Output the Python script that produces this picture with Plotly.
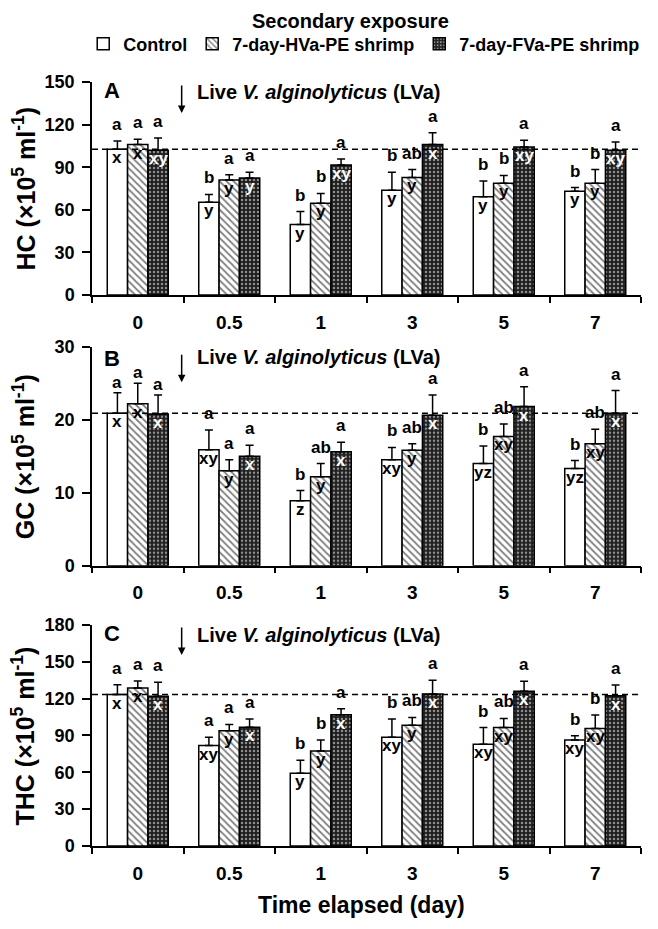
import plotly.graph_objects as go

# ---------------- data ----------------
days = ["0", "0.5", "1", "3", "5", "7"]
series_names = ["Control", "7-day-HVa-PE shrimp", "7-day-FVa-PE shrimp"]

# Panel A: HC
hc_ctrl = [102.6, 65.3, 49.6, 73.8, 69.2, 73.1]
hc_ctrl_se = [5.8, 5.5, 9.2, 12.7, 11.1, 2.6]
hc_hva = [105.9, 81.0, 64.6, 82.8, 78.7, 78.7]
hc_hva_se = [3.7, 3.7, 6.9, 5.5, 5.5, 9.6]
hc_fva = [102.0, 82.4, 91.6, 105.9, 104.3, 102.0]
hc_fva_se = [8.5, 4.1, 4.1, 8.3, 4.6, 5.7]
hc_top_ctrl = ["a", "b", "b", "b", "b", "b"]
hc_top_hva = ["a", "a", "b", "ab", "b", "b"]
hc_top_fva = ["a", "a", "a", "a", "a", "a"]
hc_in_ctrl = ["x", "y", "y", "y", "y", "y"]
hc_in_hva = ["x", "y", "y", "y", "y", "y"]
hc_in_fva = ["xy", "y", "xy", "x", "xy", "xy"]

# Panel B: GC
gc_ctrl = [20.9, 15.9, 8.9, 14.5, 14.0, 13.3]
gc_ctrl_se = [2.8, 2.7, 1.4, 1.7, 2.4, 1.1]
gc_hva = [22.2, 13.0, 12.2, 15.8, 17.7, 16.7]
gc_hva_se = [2.8, 1.5, 1.8, 0.9, 1.7, 2.0]
gc_fva = [20.8, 15.0, 15.6, 20.6, 21.8, 20.9]
gc_fva_se = [2.6, 1.5, 1.3, 2.8, 2.7, 3.1]
gc_top_ctrl = ["a", "a", "b", "b", "b", "b"]
gc_top_hva = ["a", "a", "ab", "ab", "ab", "ab"]
gc_top_fva = ["a", "a", "a", "a", "a", "a"]
gc_in_ctrl = ["x", "xy", "z", "xy", "yz", "yz"]
gc_in_hva = ["x", "y", "y", "y", "xy", "xy"]
gc_in_fva = ["x", "x", "x", "x", "x", "x"]

# Panel C: THC
thc_ctrl = [123.3, 81.8, 59.2, 88.6, 82.9, 86.4]
thc_ctrl_se = [8.1, 6.8, 10.6, 14.8, 13.6, 3.3]
thc_hva = [128.7, 93.8, 77.4, 98.4, 96.5, 95.7]
thc_hva_se = [5.7, 5.2, 9.0, 6.3, 7.4, 10.9]
thc_fva = [121.9, 96.8, 106.9, 123.8, 126.0, 122.4]
thc_fva_se = [11.5, 6.6, 4.9, 11.2, 8.2, 8.8]
thc_top_ctrl = ["a", "a", "b", "b", "b", "b"]
thc_top_hva = ["a", "a", "b", "ab", "ab", "b"]
thc_top_fva = ["a", "a", "a", "a", "a", "a"]
thc_in_ctrl = ["x", "xy", "y", "xy", "xy", "xy"]
thc_in_hva = ["x", "y", "y", "y", "xy", "xy"]
thc_in_fva = ["x", "x", "x", "x", "x", "x"]

panel_letters = ["A", "B", "C"]
y_titles = ["HC (×10<sup>5</sup> ml<sup>-1</sup>)",
            "GC (×10<sup>5</sup> ml<sup>-1</sup>)",
            "THC (×10<sup>5</sup> ml<sup>-1</sup>)"]
y_max = [150, 30, 180]
y_dtick = [30, 10, 30]

panels = [
    dict(vals=[hc_ctrl, hc_hva, hc_fva], se=[hc_ctrl_se, hc_hva_se, hc_fva_se],
         top=[hc_top_ctrl, hc_top_hva, hc_top_fva], inner=[hc_in_ctrl, hc_in_hva, hc_in_fva]),
    dict(vals=[gc_ctrl, gc_hva, gc_fva], se=[gc_ctrl_se, gc_hva_se, gc_fva_se],
         top=[gc_top_ctrl, gc_top_hva, gc_top_fva], inner=[gc_in_ctrl, gc_in_hva, gc_in_fva]),
    dict(vals=[thc_ctrl, thc_hva, thc_fva], se=[thc_ctrl_se, thc_hva_se, thc_fva_se],
         top=[thc_top_ctrl, thc_top_hva, thc_top_fva], inner=[thc_in_ctrl, thc_in_hva, thc_in_fva]),
]

# ---------------- styling ----------------
FONT = "Liberation Sans, Arial, sans-serif"
domains = [[0.7212, 1.0], [0.3669, 0.6535], [0.0, 0.2893]]
markers = [
    dict(color="white", line=dict(color="black", width=1.5)),
    dict(color="white", line=dict(color="black", width=1.5),
         pattern=dict(shape="\\", fgcolor="black", bgcolor="white", size=5, solidity=0.35)),
    dict(color="#222222", line=dict(color="black", width=1.5),
         pattern=dict(shape=".", fgcolor="white", bgcolor="#1e1e1e", size=4, solidity=0.3)),
]
inner_colors = ["black", "black", "white"]
xpos = list(range(len(days)))
group_width = 2.0 / 3.0
bar_w = group_width / 3.0
offsets = [-bar_w, 0.0, bar_w]
top_shift = 5
top_shift_special = {(1, 0): -1}   # panel B, day 0: letters sit lower (next to panel letter)

fig = go.Figure()
annotations = []
shapes = []
layout_axes = {}

for p, pan in enumerate(panels):
    s = "" if p == 0 else str(p + 1)
    for j in range(3):
        fig.add_trace(go.Bar(
            x=xpos, y=pan["vals"][j], name=series_names[j],
            marker=markers[j], legendgroup=series_names[j], showlegend=(p == 0),
            error_y=dict(type="data", symmetric=False, array=pan["se"][j],
                         arrayminus=[0] * len(days), color="black", thickness=1.5, width=4),
            xaxis="x" + s, yaxis="y" + s, hoverinfo="skip",
        ))
        for i in range(len(days)):
            xv = xpos[i] + offsets[j]
            v = pan["vals"][j][i]
            e = pan["se"][j][i]
            annotations.append(dict(
                x=xv, y=v + e, xref="x" + s, yref="y" + s, text=pan["top"][j][i],
                showarrow=False, yanchor="bottom", yshift=top_shift_special.get((p, i), top_shift),
                font=dict(family=FONT, size=17, color="black", weight="bold")))
            annotations.append(dict(
                x=xv, y=v, xref="x" + s, yref="y" + s, text=pan["inner"][j][i],
                showarrow=False, yanchor="top", yshift=3,
                font=dict(family=FONT, size=17, color=inner_colors[j], weight="bold")))
    # dashed reference line at control day-0 level
    shapes.append(dict(type="line", xref="x" + s + " domain", x0=0, x1=1,
                       yref="y" + s, y0=pan["vals"][0][0], y1=pan["vals"][0][0],
                       line=dict(color="black", width=1.5, dash="6px,4px"), layer="above"))
    # panel letter
    letter_y = [0.962, 0.945, 0.9615][p]
    annotations.append(dict(x=0.0364, y=letter_y, xref="x" + s + " domain", yref="y" + s + " domain",
                            text=panel_letters[p], showarrow=False, xanchor="center", yanchor="middle",
                            font=dict(family=FONT, size=22, color="black", weight="bold")))
    # LVa label + arrow
    lab_y = [0.9545, 0.953, 0.9547][p]
    annotations.append(dict(x=0.626, y=lab_y, xref="x" + s, yref="y" + s + " domain",
                            text="Live <i>V. alginolyticus</i> (LVa)", showarrow=False,
                            xanchor="left", yanchor="middle",
                            font=dict(family=FONT, size=20, color="black", weight="bold")))
    tip_y = [0.854, 0.838, 0.864][p]
    annotations.append(dict(x=0.48, y=tip_y, xref="x" + s, yref="y" + s + " domain",
                            text="", showarrow=True, ax=0, ay=-29, arrowhead=2,
                            arrowsize=1, arrowwidth=1.5, arrowcolor="black"))
    # y title
    annotations.append(dict(x=-0.1239, y=0.5, xref="paper", yref="y" + s + " domain",
                            text=y_titles[p], showarrow=False, textangle=-90,
                            xanchor="center", yanchor="middle",
                            font=dict(family=FONT, size=25, color="black", weight="bold")))
    layout_axes["xaxis" + s] = dict(
        domain=[0, 1], anchor="y" + s, range=[-0.5, len(days) - 0.5],
        tickmode="array", tickvals=xpos, ticktext=days,
        ticks="outside", ticklen=6, tickcolor="rgba(0,0,0,0)", tickwidth=1.5,
        minor=dict(tick0=-0.5, dtick=1, ticks="outside", ticklen=6, tickwidth=1.5,
                   tickcolor="black", showgrid=False),
        showline=True, linecolor="black", linewidth=1.5, showgrid=False, zeroline=False,
        ticklabelstandoff=3,
        tickfont=dict(family=FONT, size=19, color="black", weight="bold"),
    )
    layout_axes["yaxis" + s] = dict(
        domain=domains[p], anchor="x" + s, range=[0, y_max[p]], dtick=y_dtick[p], tick0=0,
        ticks="outside", ticklen=8, tickwidth=1.5, tickcolor="black",
        showline=True, linecolor="black", linewidth=1.5, showgrid=False, zeroline=False,
        ticklabelstandoff=4,
        tickfont=dict(family=FONT, size=18, color="black", weight="bold"),
    )

annotations.append(dict(x=0.47, y=1.0798, xref="paper", yref="paper", text="Secondary exposure",
                        showarrow=False, xanchor="center", yanchor="middle",
                        font=dict(family=FONT, size=20, color="black", weight="bold")))
annotations.append(dict(x=0.49, y=-0.077, xref="paper", yref="paper", text="Time elapsed (day)",
                        showarrow=False, xanchor="center", yanchor="middle",
                        font=dict(family=FONT, size=23, color="black", weight="bold")))

# the page body adds an 8 px offset, so the figure is 8 px smaller and shifted accordingly
fig.update_layout(
    width=650, height=921,
    margin=dict(l=84, r=17, t=74, b=83),
    plot_bgcolor="white", paper_bgcolor="white",
    barmode="group", bargap=1 / 3, bargroupgap=0,
    showlegend=True,
    legend=dict(orientation="h", x=-0.016, xanchor="left", y=1.0497, yanchor="middle",
                font=dict(family=FONT, size=18, color="black", weight="bold"),
                bgcolor="rgba(0,0,0,0)", itemclick=False, itemdoubleclick=False),
    annotations=annotations, shapes=shapes,
    font=dict(family=FONT, color="black"),
    **layout_axes,
)

fig.write_html("out.html")
